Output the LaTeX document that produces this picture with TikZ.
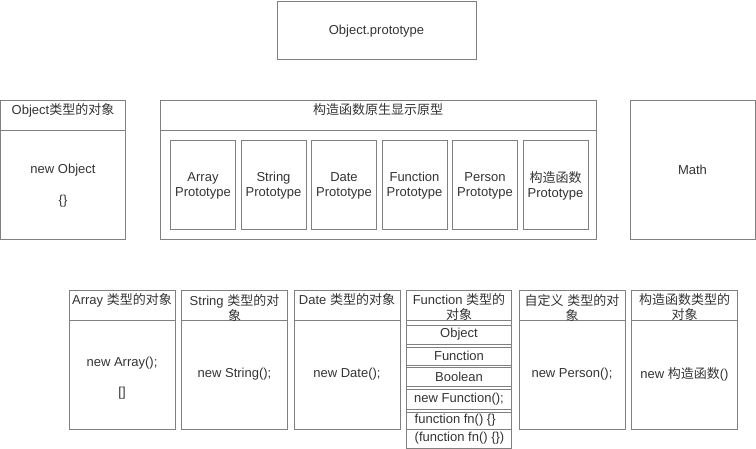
\documentclass[tikz,border=0pt]{standalone}
\usepackage{fontspec}
\setmainfont{Liberation Sans}
\newfontfamily\cjkfont{Noto Sans CJK SC}[Scale=1.0]
\newcommand\zh[1]{{\cjkfont #1}}
\definecolor{linegray}{HTML}{808080}
\definecolor{txtgray}{HTML}{333333}
\tikzset{
  box/.style={draw=linegray, line width=0.8pt, inner sep=0pt, outer sep=0pt, anchor=north west},
  txt/.style={text=txtgray, inner sep=0pt, align=center}
}

\begin{document}
\begin{tikzpicture}[x=1pt,y=-1pt,font=\fontsize{13}{15}\selectfont]
\useasboundingbox (0,0) rectangle (756,449);

\node[box, minimum width=199, minimum height=58] (objproto) at (277,1) {};
\node[txt] (objprototxt) at ([yshift=-1]objproto.center) {Object.prototype};

% Object type
\node[box, minimum width=125, minimum height=30] (objhead) at (0.5,100) {};
\node[box, minimum width=125, minimum height=109] (objbody) at (0.5,130) {};
\node[txt] (objheadtxt) at (63,110) {Object\zh{类型的对象}};
\node[txt] (objnew) at (63,170) {new Object};
\node[txt] (objlit) at (63,201) {\{\}};

% constructor prototypes
\node[box, minimum width=436, minimum height=30] (ctorhead) at (160,100) {};
\node[box, minimum width=436, minimum height=109] (ctorbody) at (160,130) {};
\node[txt] (ctorheadtxt) at (378,110) {\zh{构造函数原生显示原型}};
\foreach \n/\t [count=\i from 0] in {arr/Array,str/String,date/Date,fun/Function,person/Person,ctor/\zh{构造函数}} {
  \node[box, minimum width=65, minimum height=89] (\n proto) at (170.5+70.5*\i,140) {};
  \node[txt] (\n prototxt) at ([yshift=-1]\n proto.center) {\t\\Prototype};
}

% Math
\node[box, minimum width=125, minimum height=139] (math) at (630,100) {};
\node[txt] (mathtxt) at (math.center) {Math};

% instance columns
\foreach \n [count=\i from 0] in {arr,str,date,person,ctor} {
  \pgfmathsetmacro\xx{\i<3 ? 69+112.5*\i : 69+112.5*(\i+1)}
  \node[box, minimum width=106, minimum height=30] (\n head) at (\xx,290) {};
  \node[box, minimum width=106, minimum height=109] (\n body) at (\xx,320) {};
}
\node[txt] (arrheadtxt) at (arrhead.north |- 0,300) {Array \zh{类型的对象}};
\node[txt] (strheadtxt) at (strhead.north |- 0,307.5) {String \zh{类型的对}\\\zh{象}};
\node[txt] (dateheadtxt) at (datehead.north |- 0,300) {Date \zh{类型的对象}};
\node[txt] (personheadtxt) at (personhead.north |- 0,307.5) {\zh{自定义} \zh{类型的对}\\\zh{象}};
\node[txt] (ctorheadtxt) at (ctorhead.north |- 0,307.5) {\zh{构造函数类型的}\\\zh{对象}};
\node[txt] (arrnew) at (arrbody.north |- 0,363) {new Array();};
\node[txt] (arrlit) at (arrbody.north |- 0,393) {[]};
\node[txt] (strnew) at (strbody.center) {new String();};
\node[txt] (datenew) at (datebody.center) {new Date();};
\node[txt] (personnew) at (personbody.center) {new Person();};
\node[txt] (ctornew) at (ctorbody.center) {new \zh{构造函数}()};

% Function column
\node[box, minimum width=105, minimum height=158] (funcol) at (406.5,290) {};
\node[box, minimum width=105, minimum height=30] (funhead) at (406.5,290) {};
\node[txt] (funheadtxt) at (funhead.north |- 0,307.5) {Function \zh{类型的}\\\zh{对象}};
\node[box, minimum width=105, minimum height=19] (funobj) at (406.5,325) {};
\node[box, minimum width=105, minimum height=18] (funfun) at (406.5,347) {};
\node[box, minimum width=105, minimum height=19] (funbool) at (406.5,367) {};
\node[box, minimum width=105, minimum height=20] (funnew) at (406.5,389) {};
\node[box, minimum width=105, minimum height=17] (fundecl) at (406.5,412) {};
\node[box, minimum width=105, minimum height=19] (funexpr) at (406.5,429) {};
\node[txt] (funobjtxt) at (funobj.center) {Object};
\node[txt] (funfuntxt) at (funfun.center) {Function};
\node[txt] (funbooltxt) at (funbool.center) {Boolean};
\node[txt] (funnewtxt) at (funnew.center) {new Function();};
\node[txt, anchor=west] (fundecltxt) at ([xshift=8]fundecl.west) {function fn() \{\}};
\node[txt, anchor=west] (funexprtxt) at ([xshift=8]funexpr.west) {(function fn() \{\})};

\end{tikzpicture}
\end{document}
